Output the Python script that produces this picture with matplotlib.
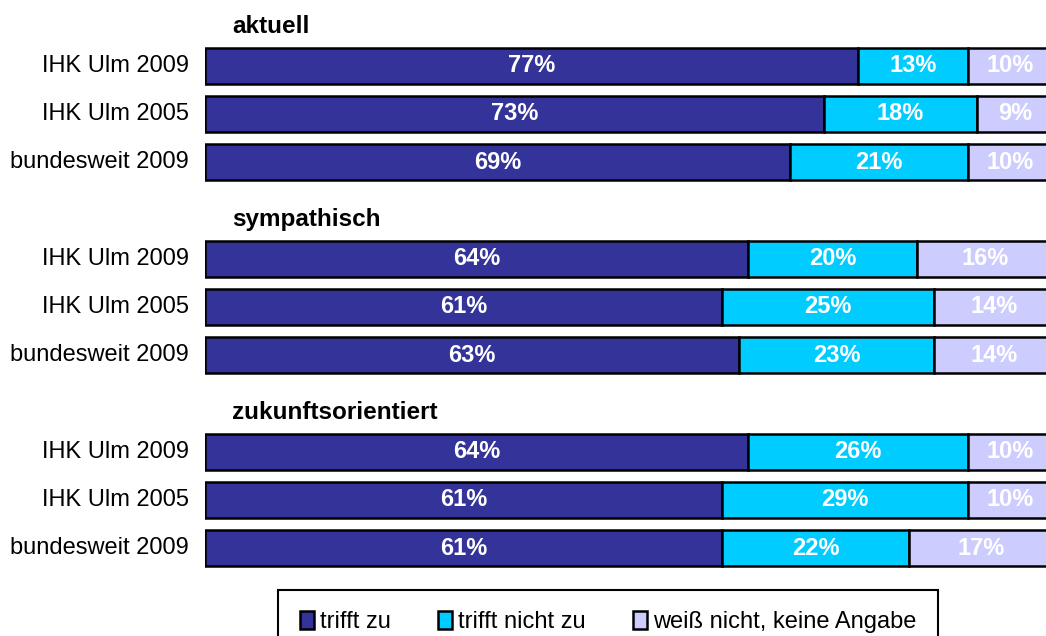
import matplotlib.pyplot as plt
from matplotlib.patches import Patch

groups = ["aktuell", "sympathisch", "zukunftsorientiert"]
rows = ["IHK Ulm 2009", "IHK Ulm 2005", "bundesweit 2009"]
trifft_zu = [[77, 73, 69], [64, 61, 63], [64, 61, 61]]
trifft_nicht_zu = [[13, 18, 21], [20, 25, 23], [26, 29, 22]]
weiss_nicht = [[10, 9, 10], [16, 14, 14], [10, 10, 17]]
series_names = ["trifft zu", "trifft nicht zu", "weiß nicht, keine Angabe"]
colors = ["#333399", "#00CCFF", "#CCCCFF"]

plt.rcParams['font.family'] = ['Liberation Sans', 'DejaVu Sans']

fig = plt.figure(figsize=(10.46, 6.36), dpi=100)
ax = fig.add_axes([205 / 1046, 59 / 636, 848 / 1046, 574 / 636])

for g, name in enumerate(groups):
    ax.text(3.2, g * 4 + 0.18, name, fontsize=17.5, fontweight='bold', va='center', ha='left')
    for r, label in enumerate(rows):
        y = g * 4 + r + 1
        left = 0
        for vals, c in zip([trifft_zu, trifft_nicht_zu, weiss_nicht], colors):
            v = vals[g][r]
            ax.barh(y, v, left=left, height=0.75, color=c, edgecolor='black', linewidth=1.8)
            ax.text(left + v / 2, y, f"{v}%", color='white', fontsize=17, fontweight='bold',
                    ha='center', va='center')
            left += v
        ax.text(-1.9, y, label, fontsize=17, ha='right', va='center')

ax.set_xlim(0, 100)
ax.set_ylim(11.6, -0.3)
ax.axis('off')

handles = [Patch(facecolor=c, edgecolor='black', linewidth=1.8) for c in colors]
leg = fig.legend(handles, series_names, loc='upper center', bbox_to_anchor=(608 / 1046, 46 / 636),
                 ncol=3, frameon=True, fancybox=False, edgecolor='black', framealpha=1, fontsize=17,
                 handlelength=0.6, handleheight=0.8, handletextpad=0.25, columnspacing=2.0,
                 borderpad=0.9, borderaxespad=0)
leg.get_frame().set_linewidth(1.5)

fig.savefig("out.png", dpi=100)
